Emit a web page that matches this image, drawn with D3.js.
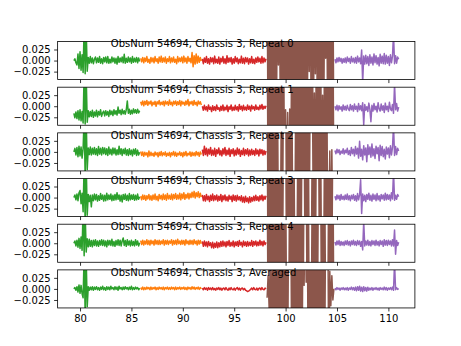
<!DOCTYPE html>
<html>
<head>
<meta charset="utf-8">
<script src="https://cdn.jsdelivr.net/npm/d3@7"></script>
<style>
  html, body { margin: 0; padding: 0; background: #fff; }
  svg { display: block; font-family: "DejaVu Sans", sans-serif; }
</style>
</head>
<body>
<svg id="chart" width="461" height="346"></svg>
<script>
// Spectral residuals per frequency band; values in units of 1e-3, channel step 0.1 GHz.
const bandStart = [79.4, 85.9, 91.9, 98.2, 104.8];
const channelStep = 0.1;
const valueUnit = 0.001;
const bandColors = ["#2ca02c", "#ff7f0e", "#d62728", "#8c564b", "#9467bd"];
const panelTitles = [
  "ObsNum 54694, Chassis 3, Repeat 0",
  "ObsNum 54694, Chassis 3, Repeat 1",
  "ObsNum 54694, Chassis 3, Repeat 2",
  "ObsNum 54694, Chassis 3, Repeat 3",
  "ObsNum 54694, Chassis 3, Repeat 4",
  "ObsNum 54694, Chassis 3, Averaged"
];
const titleAnchor = [83, 0.03];
const xTicks = [80, 85, 90, 95, 100, 105, 110];
const yTicks = [-0.025, 0, 0.025];
const yLimits = [-0.043, 0.043];

// Repeat 0
const rep0Green = [0,4,-5,-10,15,-18,20,-22,13,-27, 80,-30,70,-24,7,-6,9,-5,6,-7, 3,8,-5,6,-4,9,-6,4,-7,7, -3,8,-5,9,-6,3,-5,8,-3,6, -6,5,-8,9,-4,6,-3,8,-5,14, -6,5,-4,8,-3,6,-6,9,-4,5, -3,7,-5,6,-2];
const rep0Orange = [5,-3,7,-5,6,-2,9,-4,3,-6, 7,-3,6,-5,9,-2,4,-6,8,-3, 10,-4,6,-3,8,-6,4,-2,9,-5, 6,-3,8,-4,3,-7,9,-3,6,-2, 8,-5,10,-3,6,-6,9,-2,5,-5, 18,-14,11,-8,15,-6,10,-4,7,-1];
const rep0Red = [4,-7,6,-4,9,-6,4,-8,7,-3, 6,-7,10,-5,3,-6,8,-8,5,-3, 9,-6,4,-7,11,-4,6,-3,7,-8, 4,-6,9,-3,6,-7,3,-5,10,-6, 5,-7,7,-3,6,-8,4,-5,9,-6, 3,-7,6,-4,8,-3,5,-6,9,-5, 6,-3,4];
const rep0Brown = [200,-200,200,-200,200,-200,200,-200,200,-200, 200,-10,200,-200,200,-200,200,-200,200,-200, 200,-200,200,-200,200,-200,200,-200,200,-200, 200,-200,200,-200,200,-200,200,-200,200,-200, 200,-25,200,-200,200,-200,200,-30,200,-200, 200,-200,200,-200,200,-200,200,5,200,-200, 200,-200,200,-200,200,-200];
const rep0Purple = [3,-5,6,-3,7,-2,5,-6,4,-4, 6,-5,8,-2,5,-6,9,-3,5,-5, 7,-6,10,-3,6,-7,24,-50,10,-8, 12,-7,9,-11,13,-6,8,-10,15,-5, 11,-8,7,-12,14,-6,10,-7,16,-8, 12,-6,9,-11,13,-5,10,60,-7,11, -6,8,3];

// Repeat 1
const rep1Green = [-16,-26,-13,-28,-10,-31,-8,-33,-12,-38, 80,-40,70,-36,-10,-24,-12,-23,-9,-25, -13,-22,-9,-24,-12,-20,-8,-23,-15,-11, -22,-10,-20,-12,-23,-9,-19,-11,-21,-8, -18,-10,-20,-2,-16,-9,-19,-7,-17,-10, -18,-8,12,-16,-7,-18,-9,-17,-6,-15, -8,-16,-7,-15,-10];
const rep1Orange = [10,3,12,1,11,4,13,2,10,5, 12,1,9,4,11,0,10,5,13,3, 9,4,11,1,12,5,10,2,14,4, 9,1,11,5,12,2,10,4,13,1, 11,5,9,2,12,4,15,1,10,5, 11,2,13,4,9,1,12,5,10,3];
const rep1Red = [0,-9,2,-8,-1,-11,3,-7,-2,-12, 1,-9,-1,-10,3,-7,-3,-11,0,-9, 3,-10,-2,-8,2,-12,-1,-7,3,-10, -2,-9,2,-8,-1,-11,4,-7,0,-10, 2,-8,-2,-9,3,-7,0,-11,2,-6, -1,-9,3,-7,-2,-8,2,-6,4,-7, 0,-5,1];
const rep1Brown = [200,-200,200,-200,200,-200,200,-200,200,-200, 200,-200,200,-200,200,-200,200,-200,-8,-200, -14,-200,-6,-200,200,-200,200,-200,200,-200, 200,-200,200,-200,200,-200,200,-200,200,-200, 200,-200,200,-200,200,-200,30,-200,200,-200, 200,-200,200,-200,25,-200,200,-200,200,-200, 200,-200,200,-200,200,-200];
const rep1Purple = [0,-8,2,-10,1,-7,-1,-11,3,-8, 0,-9,2,-6,-10,4,-8,1,-11,5, -7,0,-12,6,-8,1,-10,8,-42,4, -9,-1,-12,7,-7,-35,2,-11,6,-8, 0,-13,8,-6,-11,5,-9,1,-14,7, -8,0,-12,9,-6,-10,4,-16,50,-8, 6,-11,-2];

// Repeat 2
const rep2Green = [0,8,-7,10,-11,13,-9,11,-14,8, 80,-60,80,-40,9,-6,11,-7,8,-5, 10,-6,7,-8,12,-5,8,-7,10,-4, 9,-6,7,-8,11,-5,6,-7,9,-4, 8,-7,5,-6,13,-5,7,-8,6,-4, 8,-7,5,-8,7,-6,4,-9,6,-5, 7,-8,4,-7,-1];
const rep2Orange = [1,-8,0,-10,-1,-7,-2,-11,2,-9, -1,-8,-3,-10,0,-7,-2,-11,-1,-8, 1,-9,-2,-7,0,-10,-3,-8,-1,-11, -2,-7,1,-9,-1,-10,-3,-7,0,-8, -2,-11,-1,-8,1,-9,-3,-7,0,-10, -1,-8,-2,-9,1,-7,-1,-10,0,-6];
const rep2Red = [5,-8,13,-6,8,-9,6,-5,10,-8, 4,-7,8,-10,5,-4,9,-7,3,-9, 7,-5,10,-8,4,-6,8,-10,5,-4, 7,-9,4,-7,9,-5,6,-10,3,-6, 8,-8,5,-5,7,-9,4,-7,6,-6, 3,-8,7,-5,4,-9,6,-4,5,-7, 3,-6,2];
const rep2Brown = [200,-200,200,-200,200,-200,200,-200,200,-200, 200,-200,-200,-200,200,-200,200,200,200,-200, 200,-200,200,-200,200,-200,-200,-200,200,-200, 200,-200,200,-200,200,-200,200,-200,200,-200, 200,-200,200,200,200,-200,200,-200,200,-200, 200,-200,200,-200,200,-200,200,-200,200,-200, -200,2,-200,5,-200];
const rep2Purple = [3,-4,6,-2,5,-6,2,-3,7,-5, 4,-2,8,-6,3,-8,10,-4,6,-9, 12,-5,8,-14,24,-10,6,-18,14,-7, 9,-22,16,-6,11,-12,18,-9,7,-15, 13,-4,10,-20,15,-8,12,-11,6,-16, 11,-5,9,-13,14,-7,10,60,-8,12, -6,8,2];

// Repeat 3
const rep3Green = [0,6,-5,8,-7,11,16,-14,10,-32, 80,-60,80,-40,7,-9,5,-21,6,-7, 8,-5,7,-8,4,-6,9,-4,6,-8, 5,-7,10,-5,6,-4,8,-7,5,-6, 7,-5,11,-4,6,-8,5,-10,7,-4, 8,-6,5,-7,9,-5,6,-4,7,-6, 5,-5,8,-4,2];
const rep3Orange = [3,-5,6,-4,5,-6,4,-3,7,-5, 4,-6,6,-4,8,-5,3,-7,7,-3, 5,-5,8,-4,6,-6,9,-3,5,-4, 8,-5,7,-2,9,-4,6,-3,10,-5, 8,-2,11,-4,7,-1,10,-3,9,0, 12,1,14,-1,11,2,13,0,10,1];
const rep3Red = [6,-7,4,-8,7,-5,3,-9,5,-6, 8,-7,4,-5,6,-8,3,-6,7,-9, 4,-5,6,-7,2,-8,5,-4,3,-9, 6,-6,4,-8,5,-5,2,-7,4,-10, 1,-11,3,-9,-1,-12,2,-10,0,-8, 3,-7,5,-6,2,-8,4,-5,6,-7, 3,-4,4];
const rep3Brown = [200,-200,200,-200,200,-200,200,-200,200,-200, 200,-200,200,-200,200,-200,200,200,200,-200, 200,-200,200,-200,200,-200,200,-200,-200,-200, 200,-200,200,-200,200,200,200,-200,200,-200, 200,-200,-200,-200,200,-200,200,-200,200,200, 200,-200,200,-200,-200,-200,200,-200,200,-200, 200,-200,200,-200,200];
const rep3Purple = [3,-5,6,-3,5,-6,7,-4,3,-5, 6,-4,8,-5,4,-7,5,-3,7,-6, 4,-8,9,-5,6,40,-36,8,-7,5, -9,7,-4,10,-6,5,-8,8,-4,6, -7,9,-5,4,-8,7,-3,6,-6,10, -5,7,-4,6,-7,11,-3,60,-6,5, -4,7,2];

// Repeat 4
const rep4Green = [0,5,-6,7,-9,11,-12,14,-16,80, -28,70,-20,10,-8,9,-7,6,-8,7, -5,8,-6,5,-7,6,-4,8,-5,7, -6,5,-8,7,-4,6,-5,9,-6,4, -7,6,-4,8,-5,7,-6,5,12,-5, 6,-7,8,-4,5,-6,7,-5,4,-6, 8,-4,5,-6,1];
const rep4Orange = [6,-3,7,-4,5,-2,8,-3,6,-4, 7,-1,5,-4,8,-2,6,-3,7,-3, 5,-1,8,-4,6,-2,7,-3,5,0, 8,-4,6,-2,7,-3,9,-1,5,-3, 7,-2,6,-4,8,-1,5,-3,7,-2, 6,-3,8,-1,5,-4,7,-2,6,-1];
const rep4Red = [4,-7,5,-6,3,-8,4,-5,1,-10, 2,-11,0,-9,3,-10,1,-8,4,-7, 5,-6,3,-8,4,-5,6,-7,2,-6, 5,-8,3,-5,4,-7,6,-4,2,-8, 5,-5,3,-7,4,-6,2,-5,6,-7, 4,-4,5,-6,3,-5,7,-4,4,-6, 5,-3,2];
const rep4Brown = [200,-200,200,-200,200,-200,200,-200,200,-200, 200,-200,200,-200,200,-200,200,-200,200,-200, -200,-200,200,-200,200,-200,200,-200,200,-200, 200,-200,200,-200,200,-200,200,200,200,-200, 200,-200,-200,-200,200,-200,200,-200,200,-200, 200,200,200,-200,200,-200,200,-200,-200,-200, 200,-200,200,-200,200,-200];
const rep4Purple = [3,-4,5,-3,6,-5,4,-4,3,-5, 5,-3,6,-4,4,-6,5,-3,7,-4, 4,-5,6,-3,5,-7,4,-15,50,-6, 5,-4,7,-5,4,-6,6,-3,5,-5, 7,-4,4,-6,6,-3,5,-7,8,-4, 6,-5,7,-3,5,-6,8,-6,30,-25, 6,-5,2];

// Average of all repeats
const avgGreen = [0,3,-3,5,-7,9,-10,8,-11,-20, 80,-60,70,-40,5,-3,4,-2,5,-3, 4,-1,5,-2,3,-3,4,-1,6,-2, 3,-3,5,-1,4,-2,6,0,3,-2, 5,-1,4,-3,6,0,3,-2,4,-1, 5,0,3,-2,4,-1,6,-2,3,-1, 4,0,3,-2,2];
const avgOrange = [3,-1,4,-2,3,-1,4,0,3,-2, 4,-1,3,0,4,-2,3,-1,4,0, 3,-1,4,-2,3,0,4,-1,3,-1, 4,0,3,-2,4,-1,3,0,4,-1, 3,0,4,-1,3,-2,4,0,3,-1, 5,0,4,-1,3,0,4,-1,3,0];
const avgRed = [2,-2,3,-1,2,-3,3,-1,2,-2, 3,-2,1,-3,2,-1,3,-2,2,-3, 1,2,-2,3,-1,-3,2,-2,3,-1, -2,2,-3,1,3,-2,2,-3,1,2, -2,1,-3,-4,-6,-5,-3,-1,2,-2, 3,-1,-2,2,-3,1,2,-2,3,-1, -2,2,0];
const avgBrown = [-20,30,-45,60,-200,200,-200,200,-200,200, -200,200,-200,200,-200,200,-200,200,-200,200, -200,200,200,200,-200,200,-200,200,-200,200, -200,200,-200,200,-200,200,8,200,15,200, -200,200,-200,200,-200,200,-200,200,-200,200, -200,200,-200,200,-200,200,-200,200,200,200, -200,40,-38,30,-25,0];
const avgPurple = [2,-2,3,-1,2,-3,2,-1,3,-2, 2,-2,3,-3,2,-1,4,-2,3,-3, 4,-4,5,-3,6,-5,4,-6,5,-4, 3,-5,4,-3,2,-2,3,-3,2,-1, 3,-2,2,-3,3,-1,2,-2,4,-2, 3,-3,2,-1,3,-2,4,-3,60,-2, 3,-1,1];

const panelBands = [
  [rep0Green, rep0Orange, rep0Red, rep0Brown, rep0Purple],
  [rep1Green, rep1Orange, rep1Red, rep1Brown, rep1Purple],
  [rep2Green, rep2Orange, rep2Red, rep2Brown, rep2Purple],
  [rep3Green, rep3Orange, rep3Red, rep3Brown, rep3Purple],
  [rep4Green, rep4Orange, rep4Red, rep4Brown, rep4Purple],
  [avgGreen, avgOrange, avgRed, avgBrown, avgPurple]
];

// Turn each band's values into (frequency, value) points.
const toPoints = (vals, b) => vals.map((v, i) => ({ f: bandStart[b] + i * channelStep, v: v * valueUnit }));
const panels = panelBands.map(bands => bands.map((vals, b) => toPoints(vals, b)));

// Figure geometry (6 stacked axes sharing the frequency axis)
const W = 461, H = 346;
const figLeft = 0.125 * W, figRight = 0.9 * W;
const figTop = H * (1 - 0.88), figBottom = H * (1 - 0.11);
const nRows = 6, hspace = 0.2;
const axH = (figBottom - figTop) / (nRows + (nRows - 1) * hspace);
const rowGap = axH * hspace;

const allF = panels.flat(2).map(p => p.f);
const [fMin, fMax] = d3.extent(allF);
const fPad = (fMax - fMin) * 0.05;
const x = d3.scaleLinear().domain([fMin - fPad, fMax + fPad]).range([figLeft, figRight]);

const svg = d3.select("#chart");
svg.append("rect").attr("width", W).attr("height", H).attr("fill", "#fff");

const fmt = d3.format(".3f");

panels.forEach((bands, r) => {
  const y0 = figTop + r * (axH + rowGap);
  const y = d3.scaleLinear().domain(yLimits).range([y0 + axH, y0]);
  const g = svg.append("g");

  g.append("clipPath").attr("id", "clip" + r)
    .append("rect").attr("x", figLeft).attr("y", y0).attr("width", figRight - figLeft).attr("height", axH);

  const line = d3.line().x(d => x(d.f)).y(d => y(d.v));
  const plot = g.append("g").attr("clip-path", `url(#clip${r})`);
  bands.forEach((pts, b) => {
    plot.append("path").datum(pts)
      .attr("d", line)
      .attr("fill", "none")
      .attr("stroke", bandColors[b])
      .attr("stroke-width", 1.5)
      .attr("stroke-linejoin", "round");
  });

  // y axis
  const yAxis = g.append("g").attr("transform", `translate(${figLeft},0)`)
    .call(d3.axisLeft(y).tickValues(yTicks).tickFormat(fmt).tickSize(3.5).tickPadding(3.5));
  yAxis.select(".domain").remove();
  yAxis.selectAll("line").attr("stroke", "#000").attr("stroke-width", 0.8);
  yAxis.selectAll("text").attr("font-size", 10).attr("font-family", "DejaVu Sans").attr("fill", "#000");

  // x axis (labels only on the bottom row)
  const xAxis = g.append("g").attr("transform", `translate(0,${y0 + axH})`)
    .call(d3.axisBottom(x).tickValues(xTicks).tickFormat(r === nRows - 1 ? d3.format("d") : "").tickSize(3.5).tickPadding(3.5));
  xAxis.select(".domain").remove();
  xAxis.selectAll("line").attr("stroke", "#000").attr("stroke-width", 0.8);
  xAxis.selectAll("text").attr("font-size", 10).attr("font-family", "DejaVu Sans").attr("fill", "#000");

  // frame
  g.append("rect").attr("x", figLeft).attr("y", y0).attr("width", figRight - figLeft).attr("height", axH)
    .attr("fill", "none").attr("stroke", "#000").attr("stroke-width", 0.8);

  g.append("text")
    .attr("x", x(titleAnchor[0])).attr("y", y(titleAnchor[1]))
    .attr("font-size", 10).attr("font-family", "DejaVu Sans").attr("fill", "#000")
    .text(panelTitles[r]);
});
</script>
</body>
</html>
